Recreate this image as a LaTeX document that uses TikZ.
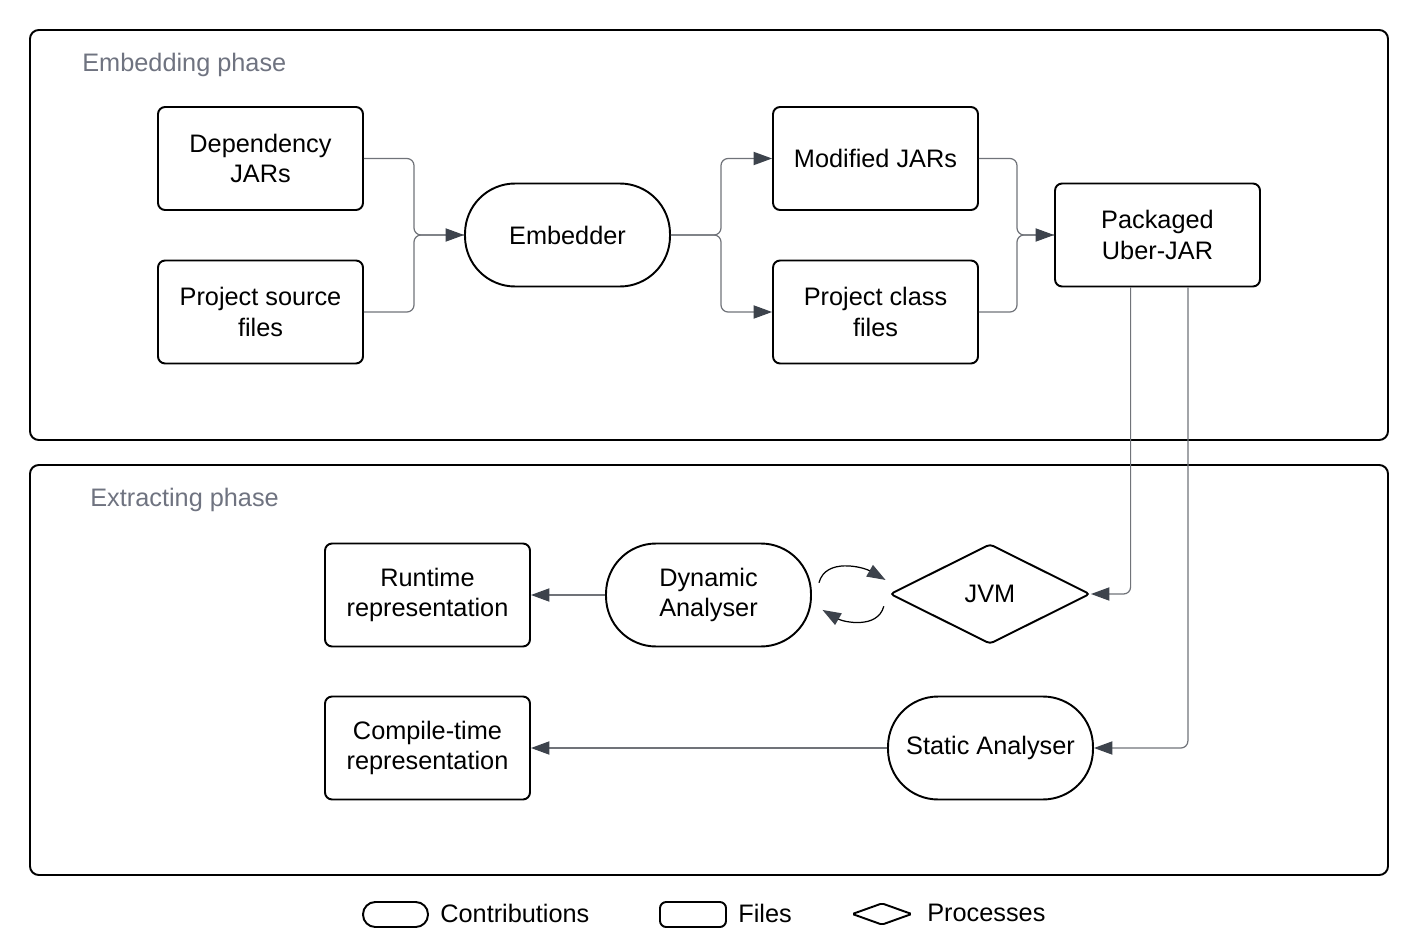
\documentclass[tikz,border=0pt]{standalone}
\usepackage{fontspec}
\setmainfont{Liberation Sans}
\usetikzlibrary{shapes.geometric,arrows.meta}
\definecolor{linegray}{HTML}{707379}
\definecolor{tipgray}{HTML}{3D434C}
\definecolor{labelgray}{HTML}{6F7380}

\begin{document}
\begin{tikzpicture}[x=0.02cm, y=-0.02cm,
			every node/.style={font=\fontsize{14.4}{17.5}\selectfont},
			file_style/.style={rectangle,rounded corners=4pt,draw=black,line width=1.1pt,minimum width=4.1cm,minimum height=2.06cm,align=center},
			contrib_style/.style={rectangle,rounded corners=28.5pt,draw=black,line width=1.1pt,minimum width=4.1cm,minimum height=2.06cm,align=center},
			proc_style/.style={diamond,aspect=2,rounded corners=2pt,draw=black,line width=1.1pt,minimum width=4cm,minimum height=2cm},
			phase_style/.style={rounded corners=5pt,draw=black,line width=1.1pt},
			label_style/.style={anchor=west,inner sep=0pt},
			edge_style/.style={draw=linegray,line width=0.7pt,rounded corners=4pt},
			arrow_style/.style={edge_style,-{Triangle[length=10.5pt,width=7.5pt,color=tipgray]}}]
			\useasboundingbox (0,0) rectangle (1424,946);
			% phases
			\draw[phase_style] (30,30) rectangle (1388,440);
			\draw[phase_style] (30,465) rectangle (1388,875);
			\node[label_style,text=labelgray] (embphase) at (82,65) {Embedding phase};
			\node[label_style,text=labelgray] (extphase) at (90,500) {Extracting phase};
			% embedding
			\node[file_style] (depjars) at (260.5,158.5) {Dependency\\JARs};
			\node[file_style] (srcfiles) at (260.5,312) {Project source\\files};
			\node[contrib_style] (embedder) at (567.5,235) {Embedder};
			\node[file_style] (modjars) at (875.5,158.5) {Modified JARs};
			\node[file_style] (classfiles) at (875.5,312) {Project class\\files};
			\node[file_style] (uberjar) at (1157.5,235) {Packaged\\Uber-JAR};
			% extracting
			\node[file_style] (runtime) at (427.5,595) {Runtime\\representation};
			\node[contrib_style] (dynamic) at (708.5,595) {Dynamic\\Analyser};
			\node[proc_style] (jvm) at (990,594) {JVM};
			\node[file_style] (compile) at (427.5,748) {Compile-time\\representation};
			\node[contrib_style] (static) at (990.5,748) {Static Analyser};
			% legend
			\node[contrib_style,rounded corners=7pt,minimum width=1.3cm,minimum height=0.5cm] (legcontrib) at (395.5,914.5) {};
			\node[label_style] (legcontribtext) at (440,913) {Contributions};
			\node[file_style,rounded corners=3.5pt,minimum width=1.32cm,minimum height=0.5cm] (legfile) at (693,914.5) {};
			\node[label_style] (legfiletext) at (738,913) {Files};
			\node[proc_style,rounded corners=1pt,inner sep=0pt,minimum width=1.2cm,minimum height=0.44cm] (legproc) at (882,914) {};
			\node[label_style] (legproctext) at (927,913) {Processes};
			% connectors
			\coordinate (join1) at (414,235);
			\coordinate (split1) at (721,235);
			\coordinate (join2) at (1017,235);
			\draw[edge_style] (depjars.east) -| (join1) -- (embedder.west);
			\draw[arrow_style] (srcfiles.east) -| (join1) -- (embedder.west);
			\draw[arrow_style] (embedder.east) -- (split1) |- (modjars.west);
			\draw[arrow_style] (embedder.east) -- (split1) |- (classfiles.west);
			\draw[edge_style] (modjars.east) -| (join2) -- (uberjar.west);
			\draw[arrow_style] (classfiles.east) -| (join2) -- (uberjar.west);
			\draw[arrow_style] ([xshift=-15.3pt]uberjar.south) |- (jvm.east);
			\draw[arrow_style] ([xshift=17.3pt]uberjar.south) |- (static.east);
			\draw[arrow_style] (dynamic.west) -- (runtime.east);
			\draw[arrow_style] (static.west) -- (compile.east);
			\draw[arrow_style,draw=black] ([xshift=4pt,yshift=7pt]dynamic.east) to[out=75,in=150] ([xshift=-2pt,yshift=8pt]jvm.west);
			\draw[arrow_style,draw=black] ([xshift=-3pt,yshift=-7pt]jvm.west) to[out=-105,in=-30] ([xshift=6pt,yshift=-8.5pt]dynamic.east);
\end{tikzpicture}
\end{document}
